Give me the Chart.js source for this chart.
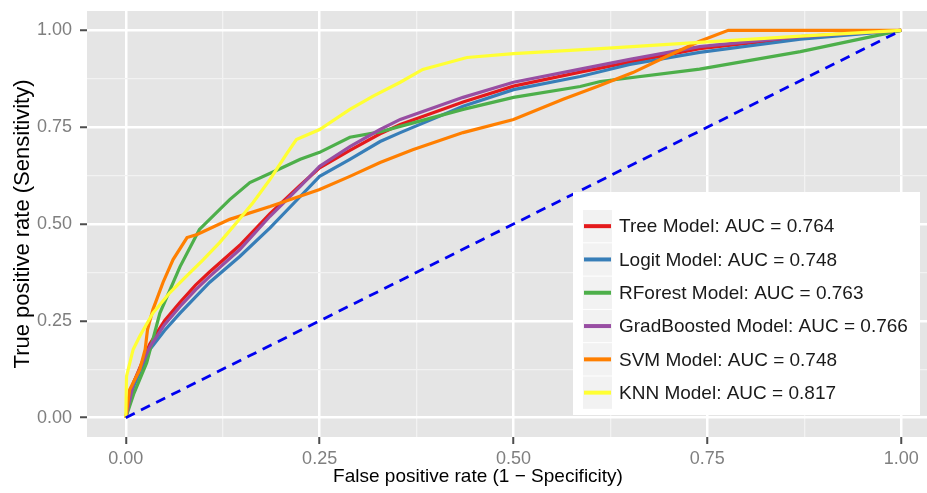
<!DOCTYPE html>
<html lang="en">
<head>
<meta charset="UTF-8" />
<title>ROC curves</title>
<script src="https://cdn.jsdelivr.net/npm/chart.js"></script>
<style>
  html, body { margin: 0; padding: 0; background: #fff; overflow: hidden; }
  #wrap { width: 945px; height: 493px; }
</style>
</head>
<body>
<div id="wrap"><canvas id="roc" width="945" height="493"></canvas></div>
<script>
// model names, AUC and colours (legend order)
const modelNames = ['Tree Model', 'Logit Model', 'RForest Model', 'GradBoosted Model', 'SVM Model', 'KNN Model'];
const modelAuc = ['0.764', '0.748', '0.763', '0.766', '0.748', '0.817'];
const modelColors = ['#e41a1c', '#377eb8', '#4daf4a', '#984ea3', '#ff7f00', '#ffff33'];

// ROC points (false positive rate / true positive rate)
const treeFpr = [0, 0.01, 0.031, 0.05, 0.07, 0.09, 0.108, 0.147, 0.186, 0.225, 0.25, 0.289, 0.328, 0.354, 0.435, 0.5, 0.586, 0.65, 0.74, 0.87, 1];
const treeTpr = [0, 0.09, 0.19, 0.25, 0.298, 0.342, 0.376, 0.445, 0.527, 0.6, 0.645, 0.69, 0.733, 0.757, 0.815, 0.856, 0.892, 0.918, 0.953, 0.982, 1];

const logitFpr = [0, 0.01, 0.031, 0.05, 0.07, 0.108, 0.147, 0.186, 0.225, 0.25, 0.289, 0.328, 0.354, 0.435, 0.5, 0.586, 0.65, 0.74, 0.87, 1];
const logitTpr = [0, 0.08, 0.176, 0.225, 0.27, 0.349, 0.416, 0.49, 0.571, 0.623, 0.667, 0.713, 0.736, 0.804, 0.847, 0.881, 0.912, 0.943, 0.977, 1];

const rforestFpr = [0, 0.01, 0.027, 0.044, 0.07, 0.095, 0.134, 0.16, 0.194, 0.225, 0.25, 0.289, 0.328, 0.354, 0.435, 0.5, 0.586, 0.612, 0.74, 0.87, 1];
const rforestTpr = [0, 0.06, 0.142, 0.27, 0.39, 0.486, 0.563, 0.607, 0.638, 0.667, 0.685, 0.724, 0.738, 0.752, 0.796, 0.827, 0.855, 0.868, 0.9, 0.945, 1];

const gradFpr = [0, 0.01, 0.031, 0.05, 0.07, 0.09, 0.108, 0.147, 0.186, 0.225, 0.25, 0.289, 0.328, 0.354, 0.435, 0.5, 0.586, 0.65, 0.74, 0.87, 1];
const gradTpr = [0, 0.09, 0.183, 0.24, 0.287, 0.33, 0.364, 0.434, 0.52, 0.597, 0.649, 0.7, 0.744, 0.77, 0.827, 0.866, 0.9, 0.925, 0.958, 0.984, 1];

const svmFpr = [0, 0.005, 0.018, 0.025, 0.028, 0.035, 0.048, 0.061, 0.079, 0.092, 0.134, 0.186, 0.25, 0.289, 0.328, 0.37, 0.435, 0.5, 0.564, 0.608, 0.654, 0.698, 0.74, 0.777, 1];
const svmTpr = [0, 0.072, 0.124, 0.176, 0.227, 0.279, 0.349, 0.408, 0.465, 0.473, 0.512, 0.545, 0.589, 0.623, 0.659, 0.692, 0.736, 0.77, 0.822, 0.855, 0.891, 0.933, 0.972, 1, 1];

const knnFpr = [0, 0.001, 0.0095, 0.018, 0.035, 0.057, 0.078, 0.1, 0.121, 0.143, 0.164, 0.186, 0.207, 0.22, 0.25, 0.289, 0.319, 0.354, 0.383, 0.44, 0.5, 0.612, 0.74, 0.87, 1];
const knnTpr = [0, 0.107, 0.176, 0.21, 0.27, 0.323, 0.365, 0.408, 0.452, 0.504, 0.555, 0.615, 0.68, 0.718, 0.744, 0.796, 0.83, 0.866, 0.899, 0.93, 0.94, 0.953, 0.969, 0.985, 1];

// chance line
const diagFpr = [0, 1];
const diagTpr = [0, 1];

// axis ticks
const majorTicks = [0, 0.25, 0.5, 0.75, 1];
const minorTicks = [0.125, 0.375, 0.625, 0.875];
const tickLabels = ['0.00', '0.25', '0.50', '0.75', '1.00'];

const xTitle = 'False positive rate (1 \u2212 Specificity)';
const yTitle = 'True positive rate (Sensitivity)';

const curves = [
  [treeFpr, treeTpr],
  [logitFpr, logitTpr],
  [rforestFpr, rforestTpr],
  [gradFpr, gradTpr],
  [svmFpr, svmTpr],
  [knnFpr, knnTpr]
];

function toPoints(xs, ys) {
  return xs.map((x, i) => ({ x: x, y: ys[i] }));
}

const datasets = curves.map((c, i) => ({
  label: modelNames[i] + ': AUC = ' + modelAuc[i],
  data: toPoints(c[0], c[1]),
  borderColor: modelColors[i],
  borderWidth: 3.2,
  pointRadius: 0,
  tension: 0,
  fill: false,
  // later models sit on top, like ggplot
  order: curves.length - i
}));
datasets.push({
  label: 'chance',
  data: toPoints(diagFpr, diagTpr),
  borderColor: '#0000f0',
  borderWidth: 2.8,
  borderDash: [10, 7],
  pointRadius: 0,
  fill: false,
  order: 0
});

const FONT = '"Liberation Sans", Arial, sans-serif';
Chart.defaults.font.family = FONT;

function isMajor(v) { return majorTicks.indexOf(v) >= 0; }

function setTicks(scale) {
  scale.ticks = majorTicks.concat(minorTicks).sort((a, b) => a - b).map(v => ({ value: v }));
}

function tickLabel(v) {
  const i = majorTicks.indexOf(v);
  return i < 0 ? '' : tickLabels[i];
}

const gridOpts = {
  color: ctx => (ctx.tick && isMajor(ctx.tick.value)) ? '#ffffff' : '#f2f2f2',
  lineWidth: ctx => (ctx.tick && isMajor(ctx.tick.value)) ? 2.5 : 1.3,
  tickColor: ctx => (ctx.tick && isMajor(ctx.tick.value)) ? '#4d4d4d' : 'rgba(0,0,0,0)',
  tickLength: 7,
  tickWidth: 2
};

const tickFont = { size: 18 };

// grey panel behind the grid
const panelBg = {
  id: 'panelBg',
  beforeDraw(chart) {
    const a = chart.chartArea, c = chart.ctx;
    c.save();
    c.fillStyle = '#e5e5e5';
    c.fillRect(a.left, a.top, a.right - a.left, a.bottom - a.top);
    c.restore();
  }
};

// axis titles and the boxed legend inside the panel
const extras = {
  id: 'extras',
  afterDraw(chart) {
    const c = chart.ctx;
    c.save();
    c.fillStyle = '#000';
    c.textAlign = 'center';
    c.font = '19px ' + FONT;
    c.textBaseline = 'alphabetic';
    c.fillText(xTitle, 478, 482);

    c.save();
    c.translate(22.5, 224);
    c.rotate(-Math.PI / 2);
    c.font = '22px ' + FONT;
    c.textBaseline = 'middle';
    c.fillText(yTitle, 0, 0);
    c.restore();

    // legend
    const left = 573, top = 192, w = 347, h = 223, rowH = 33.3;
    c.fillStyle = '#ffffff';
    c.fillRect(left, top, w, h);
    c.font = '19px ' + FONT;
    c.textAlign = 'left';
    c.textBaseline = 'middle';
    for (let i = 0; i < modelNames.length; i++) {
      const rowTop = top + 17.5 + i * rowH;
      const mid = rowTop + rowH / 2;
      c.fillStyle = '#f2f2f2';
      c.fillRect(583, rowTop + 0.5, 29, rowH - 1);
      c.strokeStyle = modelColors[i];
      c.lineWidth = 4;
      c.beginPath();
      c.moveTo(584, mid);
      c.lineTo(611, mid);
      c.stroke();
      c.fillStyle = '#1a1a1a';
      c.fillText(modelNames[i] + ': AUC = ' + modelAuc[i], 619, mid + 1);
    }
    c.restore();
  }
};

function fitX(s) {
  s.height = 56;
  s.paddingLeft = 0;
  s.paddingRight = 0;
}

function fitY(s) {
  s.width = 87;
  s.paddingTop = 0;
  s.paddingBottom = 0;
}

new Chart(document.getElementById('roc'), {
  type: 'line',
  data: { datasets: datasets },
  options: {
    responsive: false,
    animation: false,
    devicePixelRatio: 1,
    layout: { padding: { top: 11, right: 5, left: 0, bottom: 0 } },
    plugins: { legend: { display: false }, tooltip: { enabled: false } },
    scales: {
      x: {
        type: 'linear',
        min: -0.05,
        max: 1.05,
        afterBuildTicks: setTicks,
        afterFit: fitX,
        border: { display: false },
        grid: gridOpts,
        ticks: { font: tickFont, color: '#7f7f7f', padding: 4, maxRotation: 0, autoSkip: false, callback: tickLabel }
      },
      y: {
        type: 'linear',
        min: -0.05,
        max: 1.05,
        afterBuildTicks: setTicks,
        afterFit: fitY,
        border: { display: false },
        grid: gridOpts,
        ticks: { font: tickFont, color: '#7f7f7f', padding: 8, autoSkip: false, callback: tickLabel }
      }
    }
  },
  plugins: [panelBg, extras]
});
</script>
</body>
</html>
